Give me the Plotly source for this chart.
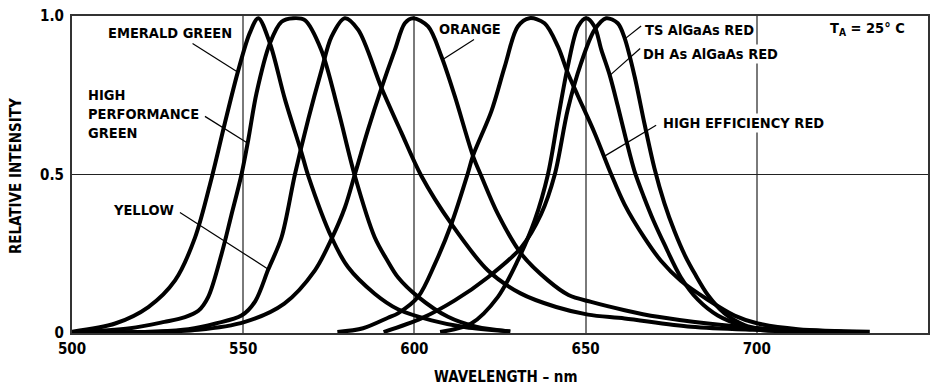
import plotly.graph_objects as go

# ---------------- data ----------------
emerald_wl = [500, 512.6, 522.3, 530.1, 535.9, 540.8, 544.6, 548.5, 551.9, 554.4, 557.8, 562.2, 567, 569, 575.8, 580.6, 588.4, 595.2, 605, 615, 628]
emerald_i  = [0.004, 0.03, 0.082, 0.166, 0.30, 0.49, 0.66, 0.826, 0.946, 0.993, 0.914, 0.737, 0.57, 0.496, 0.302, 0.208, 0.124, 0.075, 0.04, 0.018, 0.005]

hpgreen_wl = [500, 517, 527, 533, 536.9, 539.8, 543.7, 546.5, 549.5, 551.5, 553.9, 557.8, 561.2, 564.6, 568, 572.8, 577.7, 582.6, 588.4, 592.3, 595.2, 601.1, 609.8, 618, 628]
hpgreen_i  = [0.002, 0.015, 0.035, 0.05, 0.07, 0.114, 0.25, 0.37, 0.5, 0.611, 0.757, 0.914, 0.982, 0.993, 0.987, 0.893, 0.705, 0.496, 0.302, 0.225, 0.176, 0.114, 0.051, 0.02, 0.005]

yellow_wl = [500, 525, 534, 542, 549.5, 553.5, 557.3, 561.2, 565.1, 569, 572.8, 575.8, 579.7, 583.6, 590.4, 596.2, 602, 610.8, 621.5, 631, 641.4, 650.7, 661.4, 680.8, 700.3, 720]
yellow_i  = [0.001, 0.005, 0.012, 0.03, 0.055, 0.1, 0.2, 0.302, 0.5, 0.674, 0.826, 0.935, 0.993, 0.956, 0.773, 0.632, 0.496, 0.344, 0.197, 0.125, 0.082, 0.058, 0.046, 0.02, 0.01, 0.004]

orange_wl = [505, 536.9, 550.5, 562, 570.9, 575.8, 579.7, 582.6, 586.5, 590.4, 594.3, 597.2, 599.6, 604, 607.9, 611.8, 617.1, 619.5, 624.4, 631.2, 639, 645, 651.6, 661.4, 671.1, 685.7, 700.3, 725]
orange_i  = [0.001, 0.01, 0.035, 0.093, 0.197, 0.297, 0.396, 0.5, 0.643, 0.773, 0.893, 0.977, 0.993, 0.967, 0.872, 0.747, 0.559, 0.496, 0.375, 0.25, 0.166, 0.12, 0.098, 0.072, 0.051, 0.03, 0.015, 0.004]

hered_wl = [577.5, 585, 592.3, 595.2, 601.1, 606, 610.8, 615.5, 617.1, 622.5, 626.4, 630.2, 633.6, 638, 641.9, 644.8, 647.8, 652.6, 657.5, 661.4, 667.2, 672, 677.8, 685.7, 693.5, 700.3, 712, 733]
hered_i  = [0.003, 0.015, 0.048, 0.062, 0.114, 0.218, 0.344, 0.5, 0.559, 0.70, 0.841, 0.967, 0.993, 0.977, 0.904, 0.82, 0.747, 0.632, 0.5, 0.405, 0.30, 0.228, 0.165, 0.105, 0.055, 0.03, 0.012, 0.004]

dh_wl = [607.5, 616.6, 624.4, 630.2, 635.1, 639, 641.9, 644.8, 647.8, 650.2, 652.6, 654.6, 657, 659.4, 661.8, 664.3, 667, 670, 673, 677.8, 682.8, 688.6, 696.4, 700.3, 722]
dh_i  = [0.003, 0.03, 0.114, 0.229, 0.354, 0.5, 0.674, 0.841, 0.967, 0.993, 0.967, 0.893, 0.815, 0.716, 0.611, 0.51, 0.43, 0.35, 0.28, 0.176, 0.105, 0.055, 0.02, 0.01, 0.003]

ts_wl = [591, 602, 611.8, 621.5, 631.2, 637, 641, 644.8, 648.7, 652.6, 656, 659.4, 661.4, 664.3, 667.2, 670.1, 673, 676, 679, 682, 685.7, 690.6, 696.4, 700.3, 728]
ts_i  = [0.003, 0.046, 0.103, 0.176, 0.27, 0.375, 0.5, 0.705, 0.852, 0.956, 0.993, 0.977, 0.93, 0.81, 0.66, 0.52, 0.41, 0.32, 0.245, 0.185, 0.12, 0.062, 0.025, 0.015, 0.003]

series = [
    ("EMERALD GREEN", emerald_wl, emerald_i),
    ("HIGH PERFORMANCE GREEN", hpgreen_wl, hpgreen_i),
    ("YELLOW", yellow_wl, yellow_i),
    ("ORANGE", orange_wl, orange_i),
    ("HIGH EFFICIENCY RED", hered_wl, hered_i),
    ("DH As AlGaAs RED", dh_wl, dh_i),
    ("TS AlGaAs RED", ts_wl, ts_i),
]

x_ticks = [500, 550, 600, 650, 700, 750]
y_ticks = [0, 0.5, 1.0]
y_ticktext = ["0", "0.5", "1.0"]

# ---------------- figure ----------------
FONT = "Liberation Sans Narrow, Arial Narrow, DejaVu Sans Condensed, sans-serif"
W, H = 937, 389
L, R, T, B = 72, 7, 14, 56
LABEL_SIZE = 14.5

fig = go.Figure()
for name, wl, inten in series:
    fig.add_trace(go.Scatter(x=wl, y=inten, mode="lines", name=name,
                             line=dict(color="black", width=4, shape="spline", smoothing=0.9),
                             showlegend=False, hoverinfo="skip"))

# pixel -> data helpers for placing text / leader lines
def lam(px):
    return 550 + (px - 245) / 3.427

def inten(py):
    return (333 - py) / 319

leaders = [
    ((194.3, 41.7), (239, 70)),
    ((206.7, 115), (249.3, 141.7)),
    ((181.7, 211.7), (269.3, 268.3)),
    ((476, 37.7), (444, 58.3)),
    ((643.3, 24), (626.7, 37.3)),
    ((642.3, 46.7), (611.7, 74)),
    ((658.3, 124), (606.7, 155)),
]
for (x0, y0), (x1, y1) in leaders:
    fig.add_shape(type="line", x0=lam(x0), y0=inten(y0), x1=lam(x1), y1=inten(y1),
                  line=dict(color="black", width=1.2), layer="above")

labels = [
    ("EMERALD GREEN", 108, 31, None),
    ("HIGH<br>PERFORMANCE<br>GREEN", 87.7, 113, None),
    ("YELLOW", 113, 209, None),
    ("ORANGE", 439.3, 26.7, None),
    ("TS AlGaAs RED", 645, 27.7, None),
    ("DH As AlGaAs RED", 643.3, 52.3, "white"),
    ("HIGH EFFICIENCY RED", 663.3, 121.7, "white"),
    ("T<sub>A</sub> = 25° C", 830, 26.7, None),
]
for text, px, py, bg in labels:
    fig.add_annotation(x=lam(px), y=inten(py), text=text, showarrow=False,
                       xanchor="left", yanchor="middle", align="left",
                       font=dict(family=FONT, size=LABEL_SIZE, color="black", weight="bold"),
                       bgcolor=bg if bg else "rgba(0,0,0,0)", borderpad=1)

# axis titles
fig.add_annotation(xref="paper", yref="paper", x=(16 - L) / (W - L - R), y=(333 - 175) / 319,
                   text="RELATIVE INTENSITY", textangle=-90, showarrow=False,
                   xanchor="center", yanchor="middle",
                   font=dict(family=FONT, size=15, color="black", weight="bold"))
fig.add_annotation(xref="paper", yref="paper", x=(507 - L) / (W - L - R), y=(333 - 377) / 319,
                   text="WAVELENGTH – nm", showarrow=False,
                   xanchor="center", yanchor="middle",
                   font=dict(family=FONT, size=15, color="black", weight="bold"))

fig.update_layout(
    width=W, height=H,
    margin=dict(l=L, r=R, t=T, b=B),
    paper_bgcolor="white", plot_bgcolor="white",
    font=dict(family=FONT, color="black"),
)
fig.update_xaxes(range=[500, 750], tickvals=x_ticks, ticktext=[str(v) for v in x_ticks],
                 showgrid=True, gridcolor="#7a7a7a", gridwidth=1.5,
                 showline=True, linecolor="#333333", linewidth=2, mirror=True,
                 zeroline=False, ticks="outside", ticklen=1, tickcolor="rgba(0,0,0,0)",
                 tickfont=dict(family=FONT, size=15, color="black", weight="bold"))
fig.update_yaxes(range=[0, 1], tickvals=y_ticks, ticktext=y_ticktext,
                 showgrid=True, gridcolor="#222222", gridwidth=1,
                 showline=True, linecolor="#333333", linewidth=2, mirror=True,
                 zeroline=False, ticks="outside", ticklen=3, tickcolor="rgba(0,0,0,0)",
                 tickfont=dict(family=FONT, size=15, color="black", weight="bold"))

fig.write_html("out.html")
